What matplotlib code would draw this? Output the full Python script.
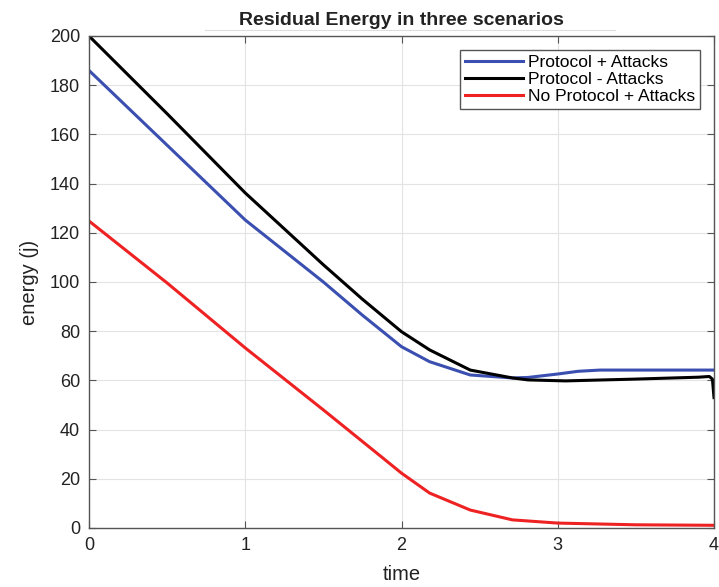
import numpy as np
import matplotlib.pyplot as plt

plt.rcParams['font.family'] = ['Liberation Sans', 'DejaVu Sans']

# values
t_blue = [0, 0.5, 1, 1.5, 1.75, 2, 2.18, 2.44, 2.71, 2.81, 3.0, 3.13, 3.27, 4.0]
e_blue = [186, 155.6, 125.2, 100, 86.5, 73.7, 67.6, 62.2, 61, 61.2, 62.6, 63.7, 64.2, 64.2]

t_black = [0, 0.5, 1, 1.5, 1.75, 2, 2.18, 2.44, 2.71, 2.81, 3.05, 3.48, 3.9, 3.97, 3.99, 4.0]
e_black = [200, 168.4, 136.2, 107, 93, 79.8, 72.4, 64.2, 61, 60.2, 59.8, 60.5, 61.3, 61.6, 60.5, 53]

t_red = [0, 0.5, 1, 1.5, 1.87, 2, 2.18, 2.44, 2.71, 3.0, 3.5, 4.0]
e_red = [124.8, 99.6, 73.2, 48, 29, 22.3, 14.2, 7.3, 3.3, 2, 1.3, 1.1]

fig = plt.figure(figsize=(7.19, 5.87), dpi=100)
ax = fig.add_axes([89/719, 1 - 528/587, 625/719, 492/587])

ax.plot(t_blue, e_blue, color='#3a4fb0', lw=2.2, label='Protocol + Attacks')
ax.plot(t_black, e_black, color='black', lw=2.2, label='Protocol - Attacks')
ax.plot(t_red, e_red, color='#ee2222', lw=2.2, label='No Protocol + Attacks')

ax.set_xlim(0, 4)
ax.set_ylim(0, 200)
ax.set_xticks([0, 1, 2, 3, 4])
ax.set_yticks(np.arange(0, 201, 20))
ax.grid(True, color='#e3e3e3', lw=0.8)
ax.tick_params(direction='in', top=True, right=True, labelsize=13, length=5,
               pad=6.5, color='#555555', labelcolor='#222222')
for s in ax.spines.values():
    s.set_color('#555555')
    s.set_linewidth(1.0)

ax.set_xlabel('time', fontsize=14.5, labelpad=8, color='#222222')
ax.set_ylabel('energy (j)', fontsize=14.5, labelpad=8, color='#222222')
ax.set_title('Residual Energy in three scenarios', fontsize=14, fontweight='bold', pad=8,
             color='#222222')
fig.add_artist(plt.Line2D([205/719, 615/719], [1 - 30/587, 1 - 30/587], color='#dddddd', lw=0.8))

leg = ax.legend(loc='upper right', fontsize=12.5, fancybox=False, framealpha=1,
                edgecolor='#555555', borderpad=0.3, labelspacing=0.1, handlelength=3.3,
                handletextpad=0.3, borderaxespad=0.8)
leg.get_frame().set_linewidth(1.0)

fig.savefig('out.png', dpi=100)
